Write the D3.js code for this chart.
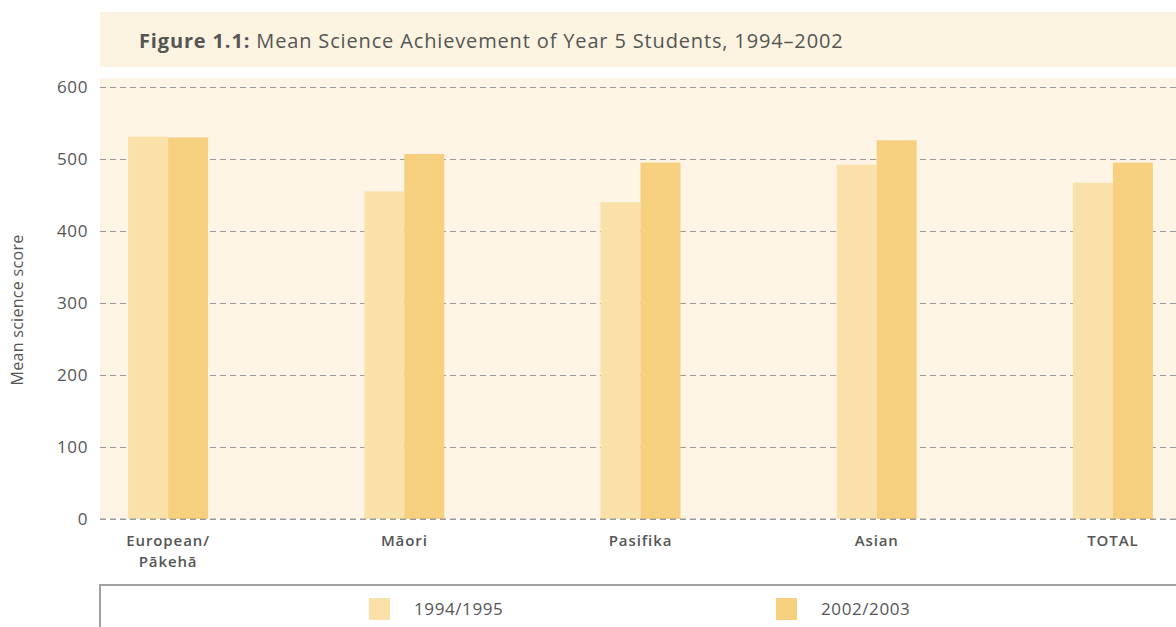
<!DOCTYPE html>
<html>
<head>
<meta charset="utf-8">
<script src="https://cdn.jsdelivr.net/npm/d3@7"></script>
<style>
  html, body { margin: 0; padding: 0; background: #ffffff; }
  svg { display: block; font-family: "Open Sans", "Noto Sans", sans-serif; }
</style>
</head>
<body>
<svg id="chart" width="1176" height="627"></svg>
<script>
// Mean science scores of Year 5 students by ethnic group
const categories = ["European/\nPākehā", "Māori", "Pasifika", "Asian", "TOTAL"];
const seriesNames = ["1994/1995", "2002/2003"];
const scores1994 = [531, 455, 440, 492, 467];
const scores2002 = [530, 507, 495, 526, 495];
const yTicks = [0, 100, 200, 300, 400, 500, 600];

const colors = { "1994/1995": "#f9e1a9", "2002/2003": "#f6d07f" };

const svg = d3.select("#chart");
const W = 1176;
const plotLeft = 100, plotRight = 1176, plotTop = 78, yTop = 87, yBottom = 519;

const rows = categories.map((c, i) => ({
  cat: c,
  values: [
    { key: seriesNames[0], value: scores1994[i] },
    { key: seriesNames[1], value: scores2002[i] }
  ]
}));

// Title band
svg.append("rect").attr("x", 100).attr("y", 12).attr("width", W - 100).attr("height", 55)
  .attr("fill", "#fcf4e1");
const title = svg.append("text").attr("x", 139).attr("y", 48)
  .attr("font-size", 20).attr("letter-spacing", 0.85).attr("fill", "#555");
title.append("tspan").attr("font-weight", 700).text("Figure 1.1:");
title.append("tspan").text(" Mean Science Achievement of Year 5 Students, 1994–2002");

// Plot background
svg.append("rect").attr("x", plotLeft).attr("y", plotTop)
  .attr("width", plotRight - plotLeft).attr("height", yBottom - plotTop)
  .attr("fill", "#fdf4e6");

const y = d3.scaleLinear().domain([0, 600]).range([yBottom, yTop]);
const x0 = d3.scaleBand().domain(categories).range([50, 1231])
  .paddingInner(0.6614).paddingOuter(0.3307);
const x1 = d3.scaleBand().domain(seriesNames).range([0, x0.bandwidth()]);

// Y axis with dashed gridlines
const yAxis = svg.append("g").attr("transform", `translate(${plotLeft},0)`)
  .call(d3.axisLeft(y).tickValues(yTicks).tickSize(-(plotRight - plotLeft)).tickPadding(12));
yAxis.select(".domain").remove();
yAxis.selectAll(".tick line").attr("stroke", "#9a9a9a").attr("stroke-dasharray", "6,4");
yAxis.selectAll(".tick text").attr("font-size", 17).attr("letter-spacing", 0.6).attr("fill", "#555")
  .attr("font-family", "Open Sans, sans-serif");

// Bars
const groups = svg.append("g").selectAll("g").data(rows).join("g")
  .attr("transform", d => `translate(${x0(d.cat)},0)`);
groups.selectAll("rect").data(d => d.values).join("rect")
  .attr("x", d => x1(d.key))
  .attr("width", x1.bandwidth())
  .attr("y", d => y(d.value))
  .attr("height", d => y(0) - y(d.value))
  .attr("fill", d => colors[d.key]);

// Baseline drawn over the bars
svg.append("line").attr("x1", plotLeft).attr("x2", plotRight)
  .attr("y1", y(0)).attr("y2", y(0))
  .attr("stroke", "#9a9a9a").attr("stroke-dasharray", "6,4");

// Category labels, one text per line
const labelLines = categories.flatMap(c =>
  c.split("\n").map((line, i) => ({ cat: c, line, i })));
svg.append("g").selectAll("text").data(labelLines).join("text")
  .attr("x", d => x0(d.cat) + x0.bandwidth() / 2)
  .attr("y", d => 546 + d.i * 20.5)
  .attr("text-anchor", "middle")
  .attr("font-size", 15).attr("letter-spacing", 0.9).attr("font-weight", 600).attr("fill", "#555")
  .text(d => d.line);

// Y axis title
svg.append("text")
  .attr("transform", "translate(23,310) rotate(-90)")
  .attr("text-anchor", "middle")
  .attr("font-size", 16).attr("letter-spacing", 0.3).attr("fill", "#555")
  .text("Mean science score");

// Legend box
svg.append("path")
  .attr("d", `M${plotLeft},627 V585 H${W}`)
  .attr("fill", "none").attr("stroke", "#a0a0a0").attr("stroke-width", 2);
const legendX = [369, 776];
const legend = svg.append("g").selectAll("g").data(seriesNames).join("g")
  .attr("transform", (d, i) => `translate(${legendX[i]},598)`);
legend.append("rect").attr("width", 21).attr("height", 22).attr("fill", d => colors[d]);
legend.append("text").attr("x", 45).attr("y", 17)
  .attr("font-size", 17).attr("letter-spacing", 0.6).attr("font-weight", 500).attr("fill", "#555")
  .text(d => d);
</script>
</body>
</html>
